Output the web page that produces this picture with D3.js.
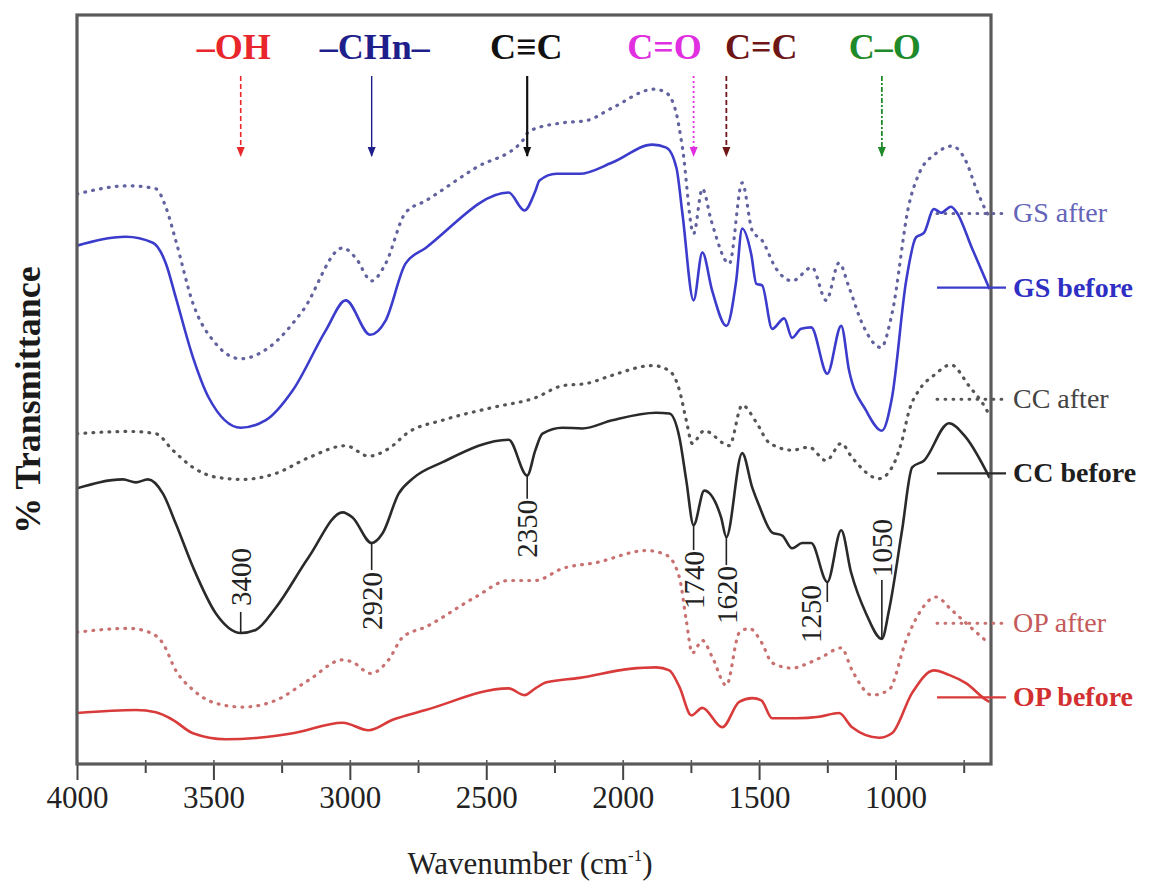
<!DOCTYPE html>
<html>
<head>
<meta charset="utf-8">
<script src="https://cdn.jsdelivr.net/npm/d3@7"></script>
<style>
  body { margin: 0; background: #fff; }
  text { font-family: "Liberation Serif", "Times New Roman", serif; }
</style>
</head>
<body>
<div id="chart"></div>
<script>
// FTIR spectra, [wavenumber cm-1, % transmittance (arbitrary offset)]
const gsAfter = [[4000,76.1],[3810,77.2],[3711,76.8],[3674,74.3],[3638,69.9],[3575,61.5],[3491,56.1],[3400,54.1],[3297,55.6],[3173,60.5],[3026,68.9],[2979,67.6],[2920,64.5],[2869,66.8],[2796,73.6],[2722,75.2],[2539,79.6],[2367,83.2],[2342,84.5],[2221,85.6],[2133,85.9],[2038,87.6],[1884,90.1],[1840,89.6],[1803,86.8],[1781,82.3],[1740,70.8],[1708,76.8],[1675,72.5],[1609,66.8],[1562,77.6],[1525,71.2],[1489,69.9],[1437,66.1],[1379,64.5],[1306,66.3],[1254,61.9],[1207,66.9],[1170,63.6],[1122,58.8],[1053,55.6],[1013,60.1],[950,74.8],[914,78.8],[852,81.5],[793,82.5],[742,80.5],[705,76.9],[669,73.9],[655,73.0]];
const gsBefore = [[4000,69.2],[3821,70.4],[3722,69.6],[3674,66.8],[3638,62.3],[3575,54.3],[3517,48.9],[3400,44.9],[3308,45.9],[3209,49.9],[3088,57.9],[3015,61.9],[2925,57.3],[2869,59.2],[2796,66.8],[2722,68.9],[2418,76.3],[2360,73.9],[2320,76.5],[2305,77.9],[2243,78.8],[2158,78.8],[2038,80.3],[1891,82.7],[1840,82.3],[1803,79.6],[1781,73.5],[1740,61.9],[1708,68.3],[1672,63.2],[1620,58.5],[1584,64.5],[1562,71.5],[1529,68.1],[1510,64.1],[1489,63.9],[1452,58.1],[1408,59.5],[1379,56.9],[1346,58.1],[1309,58.3],[1250,52.1],[1199,58.5],[1170,52.5],[1108,47.2],[1050,44.5],[1013,48.9],[961,64.5],[925,70.3],[896,70.9],[859,74.1],[833,73.6],[797,74.4],[775,73.6],[720,68.9],[655,63.4]];
const ccAfter = [[4000,44.1],[3810,44.4],[3711,44.1],[3649,41.9],[3575,39.6],[3491,38.3],[3392,38.0],[3271,38.8],[3151,40.9],[3015,42.5],[2931,41.1],[2858,42.1],[2785,44.3],[2660,45.9],[2477,47.6],[2320,48.9],[2221,50.5],[2133,50.8],[2038,51.9],[1891,53.2],[1829,52.5],[1792,49.9],[1767,45.9],[1745,42.8],[1701,44.5],[1609,42.5],[1562,47.9],[1510,45.6],[1463,42.9],[1379,41.9],[1317,42.3],[1254,40.5],[1199,42.8],[1159,40.9],[1060,38.1],[1013,39.6],[976,43.2],[950,47.2],[914,49.9],[859,51.9],[797,53.3],[731,50.5],[665,47.2],[655,46.5]];
const ccBefore = [[4000,36.8],[3832,38.0],[3784,37.6],[3740,38.0],[3685,36.1],[3638,32.1],[3575,26.3],[3491,20.1],[3400,17.5],[3345,17.9],[3271,20.9],[3151,27.6],[3026,33.6],[2990,32.9],[2920,29.5],[2880,30.8],[2821,36.1],[2770,38.1],[2660,40.3],[2418,43.3],[2350,38.5],[2320,41.9],[2294,44.1],[2221,44.9],[2148,44.8],[2038,45.9],[1877,46.9],[1829,46.8],[1792,43.6],[1767,37.9],[1740,31.9],[1701,36.5],[1639,32.9],[1620,30.3],[1562,41.5],[1525,36.9],[1500,34.5],[1452,30.9],[1415,30.5],[1379,28.8],[1342,29.5],[1309,29.5],[1250,24.3],[1199,31.2],[1163,25.6],[1108,20.1],[1050,16.7],[1024,20.5],[976,31.2],[939,39.6],[896,40.5],[804,45.5],[742,43.6],[655,38.2]];
const opAfter = [[4000,17.6],[3810,18.1],[3736,17.6],[3685,16.1],[3638,12.5],[3575,9.9],[3491,8.1],[3392,7.6],[3271,8.5],[3151,11.2],[3026,13.9],[2990,13.6],[2924,12.1],[2858,13.9],[2807,16.9],[2722,18.3],[2539,22.3],[2418,24.5],[2320,24.5],[2221,26.1],[2096,26.9],[1913,28.5],[1840,27.9],[1792,24.9],[1767,19.2],[1745,14.8],[1708,16.5],[1672,14.3],[1620,10.5],[1573,17.5],[1536,18.1],[1489,16.1],[1452,13.5],[1379,12.8],[1317,13.5],[1269,14.3],[1199,15.5],[1159,12.5],[1086,9.2],[1024,9.9],[961,16.5],[914,20.1],[852,22.3],[793,20.5],[720,18.1],[658,16.1]];
const opBefore = [[4000,6.8],[3784,7.2],[3711,6.9],[3649,5.9],[3575,4.1],[3455,3.3],[3334,3.5],[3209,4.1],[3026,5.5],[2931,4.5],[2843,5.9],[2722,7.2],[2418,10.1],[2360,9.2],[2320,10.1],[2279,10.9],[2158,11.5],[1975,12.7],[1877,12.9],[1829,12.5],[1792,10.3],[1748,6.5],[1708,7.5],[1635,4.9],[1573,8.3],[1525,8.8],[1492,8.5],[1452,6.1],[1364,6.1],[1280,6.3],[1207,6.8],[1159,4.9],[1060,3.5],[1013,4.1],[939,9.5],[859,12.5],[804,11.9],[742,10.8],[665,8.5],[655,8.3]];

// legend labels and the level where each key line sits
const seriesNames = ["GS after", "GS before", "CC after", "CC before", "OP after", "OP before"];
const legendLevels = [73.5, 63.6, 48.7, 38.8, 18.8, 8.9];

// functional groups marked at the top
const groupLabels = ["\u2013OH", "\u2013CHn\u2013", "C\u2261C", "C=O", "C=C", "C\u2013O"];
const groupWavenumbers = [3400, 2920, 2350, 1740, 1620, 1050];

// peaks labelled on the CC before spectrum
const peakWavenumbers = [3400, 2920, 2350, 1740, 1620, 1250, 1050];

const majorTicks = [4000, 3500, 3000, 2500, 2000, 1500, 1000];
const minorTicks = [3750, 3250, 2750, 2250, 1750, 1250, 750];

const svgWidth = 1150, svgHeight = 888;
const plot = { left: 77, right: 991, top: 15, bottom: 764 };

const svg = d3.select("#chart").append("svg")
    .attr("width", svgWidth)
    .attr("height", svgHeight);

const x = d3.scaleLinear().domain([4000, 650]).range([plot.left, plot.right]);
const y = d3.scaleLinear().domain([0, 100]).range([plot.bottom, plot.top]);

svg.append("clipPath").attr("id", "clip")
  .append("rect")
    .attr("x", plot.left).attr("y", plot.top)
    .attr("width", plot.right - plot.left).attr("height", plot.bottom - plot.top);

const styles = [
    { color: "#62629e", dotted: true,  text: "#6464b8", bold: false },
    { color: "#3b3bcc", dotted: false, text: "#2f2fc4", bold: true },
    { color: "#555555", dotted: true,  text: "#444444", bold: false },
    { color: "#2a2a2a", dotted: false, text: "#1e1e1e", bold: true },
    { color: "#c97070", dotted: true,  text: "#c45a5a", bold: false },
    { color: "#d93a3a", dotted: false, text: "#d23030", bold: true }
];
const allSeries = [gsAfter, gsBefore, ccAfter, ccBefore, opAfter, opBefore];

const line = d3.line()
    .x(d => x(d[0]))
    .y(d => y(d[1]))
    .curve(d3.curveMonotoneX);

const curves = svg.append("g").attr("clip-path", "url(#clip)");
allSeries.forEach((s, i) => {
    curves.append("path")
        .datum(s)
        .attr("fill", "none")
        .attr("stroke", styles[i].color)
        .attr("stroke-width", styles[i].dotted ? 3.2 : 2.6)
        .attr("stroke-linecap", styles[i].dotted ? "round" : "butt")
        .attr("stroke-linejoin", "round")
        .attr("stroke-dasharray", styles[i].dotted ? "0.8,7.2" : null)
        .attr("d", line);
});

// x axis, major ticks with labels and minor ticks
const xAxis = svg.append("g")
    .attr("transform", "translate(0," + plot.bottom + ")")
    .call(d3.axisBottom(x).tickValues(majorTicks).tickSize(16).tickPadding(6).tickFormat(d3.format("d")));
xAxis.select(".domain").remove();
xAxis.selectAll(".tick line").attr("stroke", "#444").attr("stroke-width", 2);
xAxis.selectAll(".tick text")
    .attr("fill", "#222")
    .style("font-size", "31px")
    .style("font-family", "'Liberation Serif', serif");

svg.append("g")
    .attr("transform", "translate(0," + plot.bottom + ")")
    .call(d3.axisBottom(x).tickValues(minorTicks).tickSize(9).tickFormat(""))
    .call(g => g.select(".domain").remove())
    .selectAll(".tick line").attr("stroke", "#444").attr("stroke-width", 2);

// small inner ticks
svg.append("g")
    .attr("transform", "translate(0," + plot.bottom + ")")
    .call(d3.axisTop(x).tickValues(majorTicks.concat(minorTicks)).tickSize(4).tickFormat(""))
    .call(g => g.select(".domain").remove())
    .selectAll(".tick line").attr("stroke", "#555").attr("stroke-width", 1.5);

// frame
svg.append("rect")
    .attr("x", plot.left).attr("y", plot.top)
    .attr("width", plot.right - plot.left).attr("height", plot.bottom - plot.top)
    .attr("fill", "none")
    .attr("stroke", "#5a5a5a")
    .attr("stroke-width", 3.2);

// axis titles
const xTitle = svg.append("text")
    .attr("x", (plot.left + plot.right) / 2 - 4)
    .attr("y", 874)
    .attr("text-anchor", "middle")
    .attr("fill", "#222")
    .style("font-size", "31px");
xTitle.append("tspan").text("Wavenumber (cm");
xTitle.append("tspan").attr("dy", -13).style("font-size", "17px").text("-1");
xTitle.append("tspan").attr("dy", 13).text(")");

svg.append("text")
    .attr("transform", "translate(40,400) rotate(-90)")
    .attr("text-anchor", "middle")
    .attr("fill", "#1a1a1a")
    .style("font-size", "36px")
    .style("font-weight", "bold")
    .text("% Transmittance");

// legend at the right edge
legendLevels.forEach((lv, i) => {
    const yy = y(lv);
    svg.append("line")
        .attr("x1", plot.right - 54).attr("x2", plot.right + 15)
        .attr("y1", yy).attr("y2", yy)
        .attr("stroke", styles[i].color)
        .attr("stroke-width", styles[i].dotted ? 3 : 2.4)
        .attr("stroke-linecap", styles[i].dotted ? "round" : "butt")
        .attr("stroke-dasharray", styles[i].dotted ? "0.8,7.2" : null);
    svg.append("text")
        .attr("x", plot.right + 22)
        .attr("y", yy + 9)
        .attr("fill", styles[i].text)
        .style("font-size", "28px")
        .style("font-weight", styles[i].bold ? "bold" : "normal")
        .text(seriesNames[i]);
});

// functional group labels and arrows
const groupStyle = [
    { color: "#e8262b", dash: "5,3", width: 1.6, dx: -7 },
    { color: "#1f1f8c", dash: null,  width: 1.4, dx: 3 },
    { color: "#111111", dash: null,  width: 2.2, dx: -1 },
    { color: "#e02ee0", dash: "2,3", width: 1.8, dx: -29 },
    { color: "#6e1616", dash: "5,3", width: 1.8, dx: 35 },
    { color: "#1f8a2a", dash: "5,2,2,2", width: 1.8, dx: 3 }
];
const defs = svg.append("defs");
groupStyle.forEach((g, i) => {
    defs.append("marker")
        .attr("id", "arrow" + i)
        .attr("viewBox", "0 0 10 10")
        .attr("refX", 9).attr("refY", 5)
        .attr("markerWidth", 10).attr("markerHeight", 10)
        .attr("markerUnits", "userSpaceOnUse")
        .attr("orient", "auto")
      .append("path")
        .attr("d", "M0,1 L10,5 L0,9 Z")
        .attr("fill", g.color);
});
groupWavenumbers.forEach((wn, i) => {
    const gx = x(wn);
    svg.append("text")
        .attr("x", gx + groupStyle[i].dx)
        .attr("y", 59)
        .attr("text-anchor", "middle")
        .attr("fill", groupStyle[i].color)
        .style("font-size", "36px")
        .style("font-weight", "bold")
        .text(groupLabels[i]);
    svg.append("line")
        .attr("x1", gx).attr("x2", gx)
        .attr("y1", 76).attr("y2", 156)
        .attr("stroke", groupStyle[i].color)
        .attr("stroke-width", groupStyle[i].width)
        .attr("stroke-dasharray", groupStyle[i].dash)
        .attr("marker-end", "url(#arrow" + i + ")");
});

// peak labels on CC before
const peakStyle = [
    { up: true,  len: 21, gap: 6, dx: 0 },
    { up: false, len: 27, gap: 2, dx: 0 },
    { up: false, len: 23, gap: 1, dx: 0 },
    { up: false, len: 25, gap: 1, dx: 0 },
    { up: false, len: 28, gap: 1, dx: 0 },
    { up: false, len: 20, gap: 3, dx: -16 },
    { up: true,  len: 59, gap: 3, dx: 0 }
];
peakWavenumbers.forEach((wn, i) => {
    const p = ccBefore.find(d => d[0] === wn);
    const px = x(wn), py = y(p[1]);
    const ps = peakStyle[i];
    const end = ps.up ? py - ps.len : py + ps.len;
    svg.append("line")
        .attr("x1", px).attr("x2", px)
        .attr("y1", py).attr("y2", end)
        .attr("stroke", "#222")
        .attr("stroke-width", 1.6);
    const ty = ps.dx !== 0 ? py + ps.gap : (ps.up ? end - ps.gap : end + ps.gap);
    svg.append("text")
        .attr("transform", "translate(" + (px + ps.dx) + "," + ty + ") rotate(-90)")
        .attr("text-anchor", ps.up ? "start" : "end")
        .attr("dy", "0.35em")
        .attr("fill", "#222")
        .style("font-size", "29px")
        .text(wn);
});
</script>
</body>
</html>
